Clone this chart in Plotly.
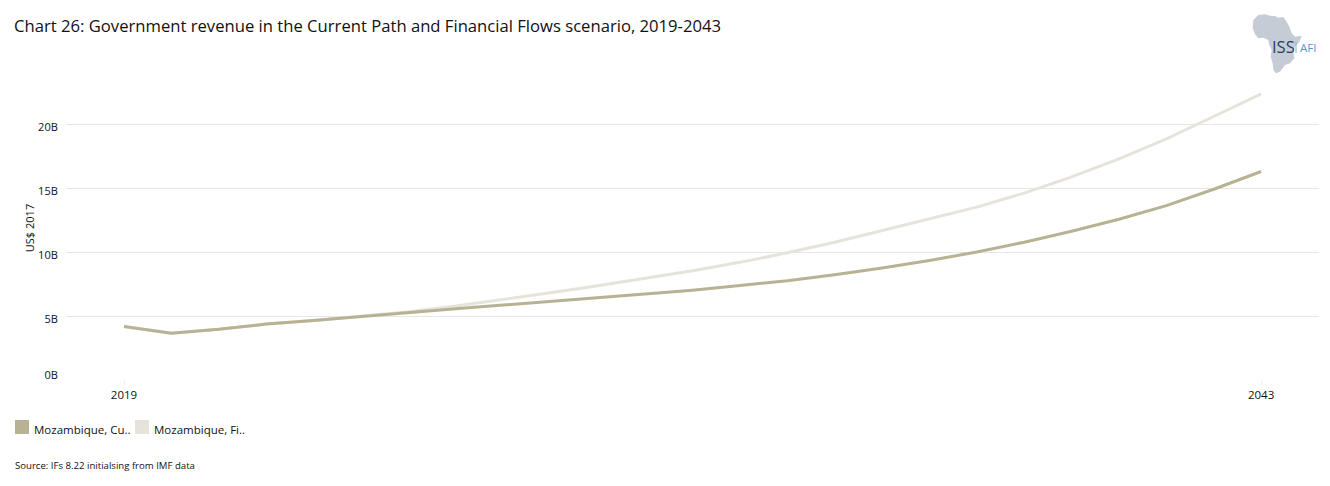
import plotly.graph_objects as go

years = list(range(2019, 2044))
current_path = [4.2, 3.67, 3.97, 4.38, 4.66, 4.98, 5.29, 5.58, 5.87, 6.16, 6.45, 6.75, 7.04,
                7.4, 7.78, 8.25, 8.78, 9.37, 10.03, 10.8, 11.66, 12.6, 13.67, 14.95, 16.34]
financial_flows = [4.2, 3.67, 3.97, 4.38, 4.66, 4.98, 5.35, 5.8, 6.3, 6.83, 7.38, 7.96, 8.56,
                   9.22, 9.97, 10.8, 11.72, 12.62, 13.55, 14.65, 15.92, 17.33, 18.9, 20.65, 22.43]
y_ticks = [0, 5, 10, 15, 20]
y_tick_labels = ["0B", "5B", "10B", "15B", "20B"]
x_ticks = [2019, 2043]
legend_labels = ["Mozambique, Cu..", "Mozambique, Fi.."]
title_text = "Chart 26: Government revenue in the Current Path and Financial Flows scenario, 2019-2043"
source_text = "Source: IFs 8.22 initialsing from IMF data"

CP_COLOR = "#b8b294"
FF_COLOR = "#e6e4da"
GRID = "#e6e6e6"
TEXT = "#111111"
FONT = "Open Sans"

W, H = 1330, 486
L, R, T, B = 66, 1319, 76, 380


def px(x):
    return (x - L) / (R - L)


def py(y):
    return (B - y) / (B - T)


fig = go.Figure()
fig.add_trace(go.Scatter(x=years, y=financial_flows, mode="lines", name="Mozambique, Financial Flows",
                         line=dict(color=FF_COLOR, width=3)))
fig.add_trace(go.Scatter(x=years, y=current_path, mode="lines", name="Mozambique, Current Path",
                         line=dict(color=CP_COLOR, width=3)))

annotations = []
shapes = []


def text(x, y, s, size, color=TEXT, anchor="left"):
    annotations.append(dict(x=px(x), y=py(y), xref="paper", yref="paper", text=s, showarrow=False,
                            xanchor=anchor, yanchor="middle", borderpad=0,
                            font=dict(family=FONT, size=size, color=color)))


for x0, color, label, xt in zip([15, 135], [CP_COLOR, FF_COLOR], legend_labels, [33, 153]):
    shapes.append(dict(type="rect", xref="paper", yref="paper", x0=px(x0), x1=px(x0 + 14),
                       y0=py(420), y1=py(434), fillcolor=color, line_width=0))
    text(xt, 429.5, label, 11.5)

text(14, 465, source_text, 9.6)

africa = [(40, 45), (55, 30), (75, 28), (90, 32), (105, 33), (115, 38), (130, 36), (140, 50), (148, 65),
          (155, 85), (165, 95), (185, 92), (178, 110), (165, 125), (160, 140), (163, 160), (150, 175),
          (135, 180), (120, 200), (108, 205), (100, 195), (98, 175), (92, 155), (95, 135), (88, 120),
          (85, 105), (70, 98), (55, 100), (45, 88), (38, 70)]
path = "M " + " L ".join(f"{px(1240 + a / 3):.5f},{py(5 + b / 3):.5f}" for a, b in africa) + " Z"
shapes.append(dict(type="path", xref="paper", yref="paper", path=path, fillcolor="#c6ccd6", line_width=0))
shapes.append(dict(type="line", xref="paper", yref="paper", x0=px(1296), x1=px(1296), y0=py(42), y1=py(53),
                   line=dict(color="#7fb2d3", width=1)))
text(1271, 47, "ISS", 16.5, "#1f3f66")
text(1298.5, 47.5, "AFI", 11.5, "#4f9ccb")

fig.update_layout(
    width=W, height=H, autosize=False,
    margin=dict(l=L, r=W - R, t=T, b=H - B),
    paper_bgcolor="white", plot_bgcolor="white",
    showlegend=False,
    font=dict(family=FONT, size=11, color=TEXT),
    title=dict(text=title_text, x=14 / W, xref="container", xanchor="left",
               y=1 - 26 / H, yref="container", yanchor="middle",
               font=dict(family=FONT, size=16.65, color=TEXT)),
    xaxis=dict(range=[2019 - 58 / 47.38, 2019 + (R - 124) / 47.38], tickvals=x_ticks, showgrid=False,
               zeroline=False, showline=False, ticks="outside", ticklen=4, tickcolor="#eeeeee",
               tickfont=dict(size=11.5)),
    yaxis=dict(range=[0, (B - T) / 12.76], tickvals=y_ticks, ticktext=y_tick_labels, showgrid=True,
               gridcolor=GRID, gridwidth=1, zeroline=True, zerolinecolor="white", showline=False,
               ticks="outside", ticklen=5, tickcolor="white", tickfont=dict(size=11),
               title=dict(text="US$ 2017", standoff=1, font=dict(size=11))),
    annotations=annotations, shapes=shapes,
)

post = """
document.body.style.margin='0';
document.documentElement.style.overflow='hidden';
document.querySelectorAll('.ytick text').forEach(function(t){
  var dy = t.textContent === '0B' ? -5 : 2.5;
  t.setAttribute('y', parseFloat(t.getAttribute('y')) + dy);
});
"""
fig.write_html("out.html", post_script=post, config={"displayModeBar": False})
